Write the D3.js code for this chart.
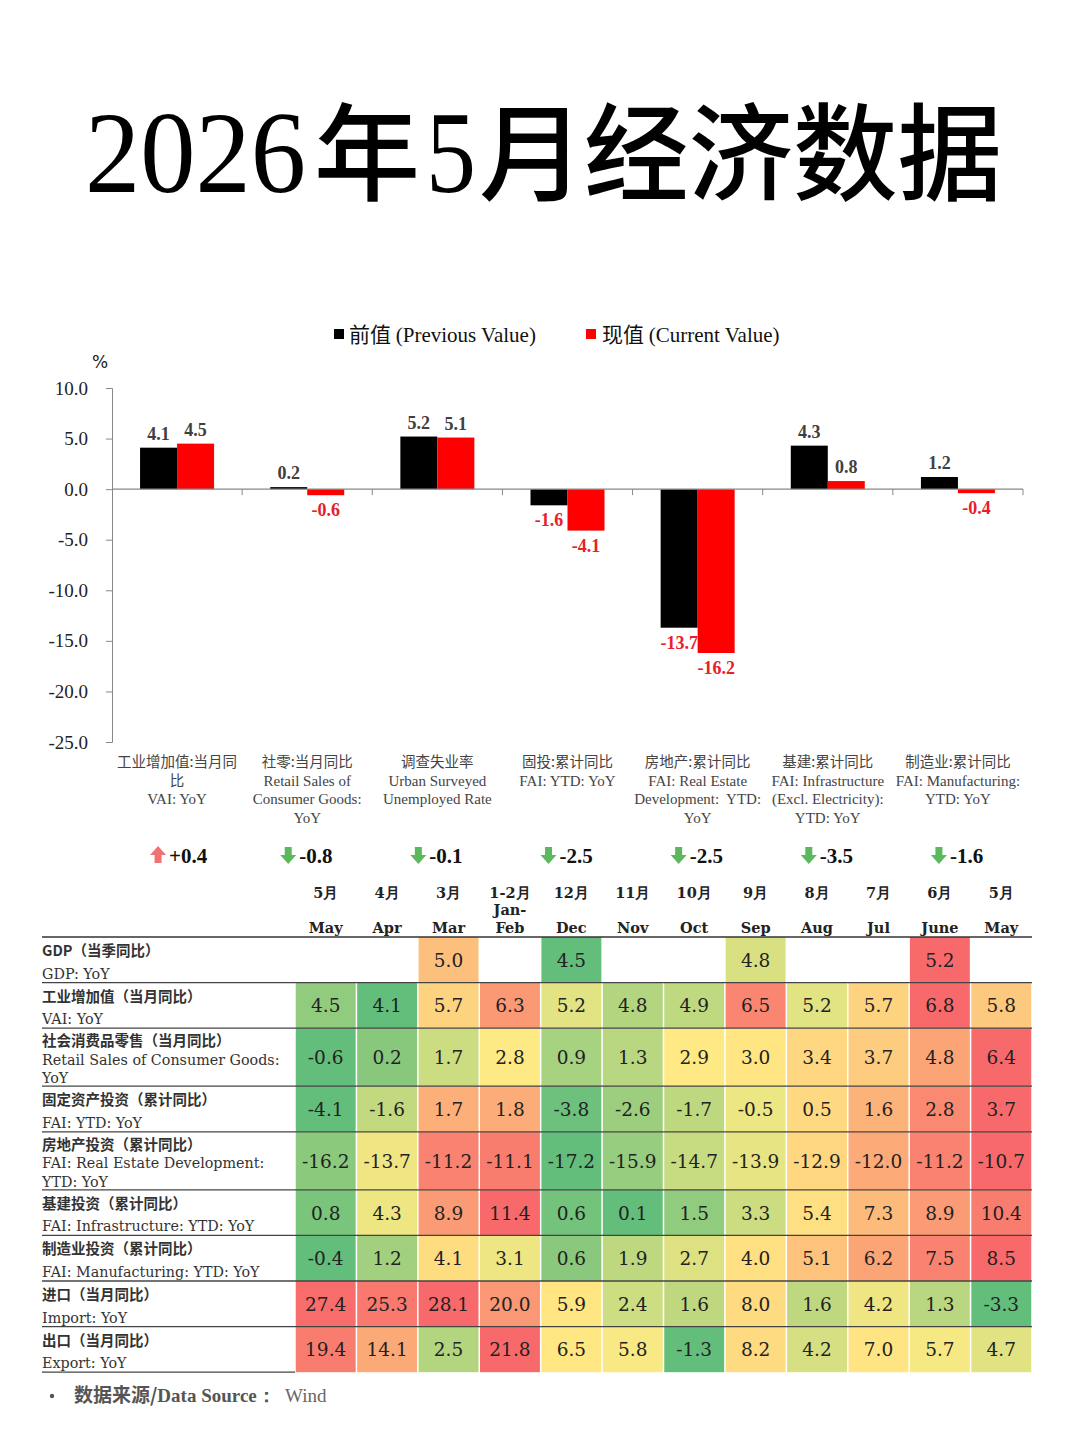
<!DOCTYPE html>
<html lang="zh">
<head>
<meta charset="utf-8">
<script src="https://d3js.org/d3.v7.min.js"></script>
<style>
  body { margin: 0; background: #fff; }
  svg { display: block; }
</style>
</head>
<body>
<div id="chart"></div>
<script>

// ---- bar chart data ----
var categories = ["VAI", "Retail", "Unemp", "FAI", "RealEstate", "Infra", "Mfg"];
var catLabels = [
  ["工业增加值:当月同", "比", "VAI: YoY"],
  ["社零:当月同比", "Retail Sales of", "Consumer Goods:", "YoY"],
  ["调查失业率", "Urban Surveyed", "Unemployed Rate"],
  ["固投:累计同比", "FAI: YTD: YoY"],
  ["房地产:累计同比", "FAI: Real Estate", "Development:  YTD:", "YoY"],
  ["基建:累计同比", "FAI: Infrastructure", "(Excl. Electricity):", "YTD: YoY"],
  ["制造业:累计同比", "FAI: Manufacturing:", "YTD: YoY"]
];
var prevValues = [4.1, 0.2, 5.2, -1.6, -13.7, 4.3, 1.2];
var currValues = [4.5, -0.6, 5.1, -4.1, -16.2, 0.8, -0.4];
var changes = [0.4, -0.8, -0.1, -2.5, -2.5, -3.5, -1.6];
var yTicks = [10, 5, 0, -5, -10, -15, -20, -25];

// ---- table data ----
var monthsCN = ["5月", "4月", "3月", "1-2月", "12月", "11月", "10月", "9月", "8月", "7月", "6月", "5月"];
var monthsEN = ["May", "Apr", "Mar", "Jan-|Feb", "Dec", "Nov", "Oct", "Sep", "Aug", "Jul", "June", "May"];
var rowLabels = [
  ["GDP（当季同比）", "GDP: YoY"],
  ["工业增加值（当月同比）", "VAI: YoY"],
  ["社会消费品零售（当月同比）", "Retail Sales of Consumer Goods:", "YoY"],
  ["固定资产投资（累计同比）", "FAI: YTD: YoY"],
  ["房地产投资（累计同比）", "FAI: Real Estate Development:", "YTD: YoY"],
  ["基建投资（累计同比）", "FAI: Infrastructure: YTD: YoY"],
  ["制造业投资（累计同比）", "FAI: Manufacturing: YTD: YoY"],
  ["进口（当月同比）", "Import: YoY"],
  ["出口（当月同比）", "Export: YoY"]
];
var gdpRow    = [null, null, 5.0, null, 4.5, null, null, 4.8, null, null, 5.2, null];
var vaiRow    = [4.5, 4.1, 5.7, 6.3, 5.2, 4.8, 4.9, 6.5, 5.2, 5.7, 6.8, 5.8];
var retailRow = [-0.6, 0.2, 1.7, 2.8, 0.9, 1.3, 2.9, 3.0, 3.4, 3.7, 4.8, 6.4];
var faiRow    = [-4.1, -1.6, 1.7, 1.8, -3.8, -2.6, -1.7, -0.5, 0.5, 1.6, 2.8, 3.7];
var reRow     = [-16.2, -13.7, -11.2, -11.1, -17.2, -15.9, -14.7, -13.9, -12.9, -12.0, -11.2, -10.7];
var infraRow  = [0.8, 4.3, 8.9, 11.4, 0.6, 0.1, 1.5, 3.3, 5.4, 7.3, 8.9, 10.4];
var mfgRow    = [-0.4, 1.2, 4.1, 3.1, 0.6, 1.9, 2.7, 4.0, 5.1, 6.2, 7.5, 8.5];
var importRow = [27.4, 25.3, 28.1, 20.0, 5.9, 2.4, 1.6, 8.0, 1.6, 4.2, 1.3, -3.3];
var exportRow = [19.4, 14.1, 2.5, 21.8, 6.5, 5.8, -1.3, 8.2, 4.2, 7.0, 5.7, 4.7];
var tableRows = [gdpRow, vaiRow, retailRow, faiRow, reRow, infraRow, mfgRow, importRow, exportRow];

var SERIF = "'Liberation Serif', 'Times New Roman', serif";
var CJK = "'Noto Sans CJK SC', sans-serif";
var TSERIF = "'DejaVu Serif', serif";

// plain hyphen minus like the original
var loc = d3.formatLocale({ decimal: ".", thousands: ",", grouping: [3], currency: ["", ""], minus: "-" });
var fmt = loc.format(".1f");

var svg = d3.select("#chart").append("svg")
  .attr("width", 1080)
  .attr("height", 1443)
  .style("background", "#fff");

// title, drawn piece by piece (digits are serif, characters CJK)
var tg = svg.append("g").attr("fill", "#000");
tg.append("text").attr("x", 85).attr("y", 192).attr("textLength", 221).attr("lengthAdjust", "spacingAndGlyphs")
  .style("font-family", SERIF).style("font-size", "117px").text("2026");
tg.append("text").attr("x", 314).attr("y", 192).style("font-family", CJK).style("font-size", "106px").style("font-weight", "500").text("年");
tg.append("text").attr("x", 426).attr("y", 192).attr("textLength", 50).attr("lengthAdjust", "spacingAndGlyphs")
  .style("font-family", SERIF).style("font-size", "117px").text("5");
tg.append("text").attr("x", 479).attr("y", 192).style("font-family", CJK).style("font-size", "106px").style("font-weight", "500").text("月");
tg.append("text").attr("x", 584).attr("y", 192).attr("textLength", 418).attr("lengthAdjust", "spacingAndGlyphs")
  .style("font-family", CJK).style("font-size", "106px").style("font-weight", "500").text("经济数据");

// ---- bar chart ----
var x0 = d3.scaleBand().domain(categories).range([112, 1023]);
var x1 = d3.scaleBand().domain(["prev", "curr"])
  .range([(x0.bandwidth() - 74) / 2, (x0.bandwidth() + 74) / 2]);
var y = d3.scaleLinear().domain([-25, 10]).range([742, 388]);

// legend
var legend = svg.append("g").style("font-size", "21px").attr("fill", "#111");
legend.append("rect").attr("x", 334).attr("y", 329).attr("width", 10).attr("height", 10).attr("fill", "#000");
var lt1 = legend.append("text").attr("x", 349).attr("y", 342);
lt1.append("tspan").style("font-family", CJK).text("前值 ");
lt1.append("tspan").style("font-family", SERIF).text("(Previous Value)");
legend.append("rect").attr("x", 586).attr("y", 329).attr("width", 10).attr("height", 10).attr("fill", "#ff0000");
var lt2 = legend.append("text").attr("x", 602).attr("y", 342);
lt2.append("tspan").style("font-family", CJK).text("现值 ");
lt2.append("tspan").style("font-family", SERIF).text("(Current Value)");

svg.append("text").attr("x", 92).attr("y", 368).style("font-family", "'DejaVu Sans', sans-serif")
  .style("font-size", "17px").attr("fill", "#222").text("%");

var yAxis = svg.append("g").attr("transform", "translate(112,0)")
  .call(d3.axisLeft(y).tickValues(yTicks).tickFormat(fmt).tickSizeOuter(0).tickSize(6).tickPadding(18));
yAxis.select(".domain").attr("stroke", "#888");
yAxis.selectAll(".tick line").attr("stroke", "#888");
yAxis.selectAll(".tick text").style("font-family", SERIF).style("font-size", "19px").attr("fill", "#222");

// bars
var groups = svg.append("g").selectAll("g").data(categories).join("g")
  .attr("transform", function(d) { return "translate(" + x0(d) + ",0)"; });

var pairs = function(d, i) {
  return [{ key: "prev", v: prevValues[i] }, { key: "curr", v: currValues[i] }];
};

groups.selectAll("rect").data(pairs).join("rect")
  .attr("x", function(d) { return x1(d.key); })
  .attr("width", x1.bandwidth())
  .attr("y", function(d) { return y(Math.max(0, d.v)); })
  .attr("height", function(d) { return Math.abs(y(d.v) - y(0)); })
  .attr("fill", function(d) { return d.key === "prev" ? "#000" : "#ff0000"; });

groups.selectAll("text.val").data(pairs).join("text")
  .attr("class", "val")
  .attr("x", function(d) { return x1(d.key) + x1.bandwidth() / 2; })
  .attr("y", function(d) { return d.v >= 0 ? y(d.v) - 8 : y(d.v) + 21; })
  .attr("text-anchor", "middle")
  .style("font-family", SERIF).style("font-size", "18px").style("font-weight", "700")
  .attr("fill", function(d) { return d.v >= 0 ? "#404040" : "#e8202a"; })
  .text(function(d) { return fmt(d.v); });

// zero line
svg.append("line").attr("x1", 112).attr("x2", 1023).attr("y1", y(0)).attr("y2", y(0)).attr("stroke", "#888").attr("stroke-width", 1.2);
svg.append("g").selectAll("line").data(categories.slice(1).concat(["end"])).join("line")
  .attr("x1", function(d) { return d === "end" ? 1023 : x0(d); })
  .attr("x2", function(d) { return d === "end" ? 1023 : x0(d); })
  .attr("y1", y(0)).attr("y2", y(0) + 6).attr("stroke", "#888");

// category labels + change row
groups.each(function(d, i) {
  var g = d3.select(this);
  var cx = x0.bandwidth() / 2;
  catLabels[i].forEach(function(line, j) {
    var isCJK = /[\u4e00-\u9fa5]/.test(line);
    g.append("text").attr("x", cx).attr("y", 767 + j * 18.5).attr("text-anchor", "middle")
      .style("font-family", isCJK ? CJK : SERIF).style("font-size", isCJK ? "14.5px" : "15px")
      .style("white-space", "pre")
      .attr("fill", "#444").text(line);
  });
  var c = changes[i];
  var up = c > 0;
  var ax = cx - 27, ay = 856;
  var arrow = up
    ? "M" + ax + "," + (ay - 1) + " l8,-9 l8,9 h-4.5 v8 h-7 v-8 z"
    : "M" + ax + "," + (ay - 1) + " l8,9 l8,-9 h-4.5 v-8 h-7 v8 z";
  g.append("path").attr("d", arrow).attr("fill", up ? "#f07272" : "#5cb85c");
  g.append("text").attr("x", ax + 19).attr("y", ay + 7)
    .style("font-family", SERIF).style("font-size", "21px").style("font-weight", "700").attr("fill", "#111")
    .text((up ? "+" : "") + fmt(c));
});

// ---- table ----
var tx = d3.scaleBand().domain(d3.range(monthsCN.length)).range([295, 1032]);
var tableTop = 937;
var rowH = rowLabels.map(function(l) { return l.length === 3 ? 58 : 45.6; });
var rowY = [];
rowH.reduce(function(acc, h) { rowY.push(acc); return acc + h; }, tableTop);

// header
var header = svg.append("g").style("font-family", TSERIF).style("font-weight", "700").style("font-size", "14.5px").attr("fill", "#222");
monthsCN.forEach(function(m, i) {
  var cx = tx(i) + tx.bandwidth() / 2;
  header.append("text").attr("x", cx).attr("y", 898).attr("text-anchor", "middle").text(m);
  var en = monthsEN[i].split("|");
  en.forEach(function(t, j) {
    header.append("text").attr("x", cx).attr("y", 933 - (en.length - 1 - j) * 18).attr("text-anchor", "middle").text(t);
  });
});

// three-colour scale per row: min green, median yellow, max red
var colorFor = function(row) {
  var vals = row.filter(function(v) { return v !== null; }).sort(d3.ascending);
  return d3.scaleLinear()
    .domain([vals[0], d3.median(vals), vals[vals.length - 1]])
    .range(["#63be7b", "#ffeb84", "#f8696b"])
    .interpolate(d3.interpolateRgb);
};

tableRows.forEach(function(row, r) {
  var color = colorFor(row);
  var g = svg.append("g");
  row.forEach(function(v, i) {
    if (v === null) return;
    g.append("rect").attr("x", tx(i) + 0.75).attr("y", rowY[r]).attr("width", tx.bandwidth() - 1.5).attr("height", rowH[r])
      .attr("fill", color(v));
    g.append("text").attr("x", tx(i) + tx.bandwidth() / 2).attr("y", rowY[r] + rowH[r] / 2 + 7)
      .attr("text-anchor", "middle").style("font-family", TSERIF).style("font-size", "18.5px").attr("fill", "#222")
      .text(fmt(v));
  });
  var lines = rowLabels[r];
  lines.forEach(function(line, j) {
    var ly = lines.length === 3 ? rowY[r] + 18 + j * 18.5 : (j === 0 ? rowY[r] + 19 : rowY[r] + rowH[r] - 4);
    var isCJK = /[\u4e00-\u9fa5]/.test(line);
    g.append("text").attr("x", 42).attr("y", ly)
      .style("font-family", isCJK ? CJK : TSERIF).style("font-size", isCJK ? "14.5px" : "14.3px")
      .style("font-weight", isCJK ? "700" : "400")
      .attr("fill", "#333").text(line);
  });
});

// rules
svg.append("line").attr("x1", 42).attr("x2", 1032).attr("y1", tableTop).attr("y2", tableTop).attr("stroke", "#333").attr("stroke-width", 1.6);
rowY.slice(1).forEach(function(yy) {
  svg.append("line").attr("x1", 42).attr("x2", 1032).attr("y1", yy).attr("y2", yy).attr("stroke", "#444").attr("stroke-width", 1.3);
});
var tableBottom = rowY[rowY.length - 1] + rowH[rowH.length - 1];
svg.append("line").attr("x1", 42).attr("x2", 295).attr("y1", tableBottom).attr("y2", tableBottom).attr("stroke", "#444").attr("stroke-width", 1.3);

// source
svg.append("circle").attr("cx", 52).attr("cy", 1396).attr("r", 2.2).attr("fill", "#555");
var src = svg.append("text").attr("x", 74).attr("y", 1402).style("font-size", "19px").attr("fill", "#555");
src.append("tspan").style("font-family", CJK).style("font-weight", "700").text("数据来源/");
src.append("tspan").style("font-family", SERIF).style("font-weight", "700").text("Data Source：");
src.append("tspan").attr("x", 285).style("font-family", SERIF).attr("fill", "#666").text("Wind");

</script>
</body>
</html>
